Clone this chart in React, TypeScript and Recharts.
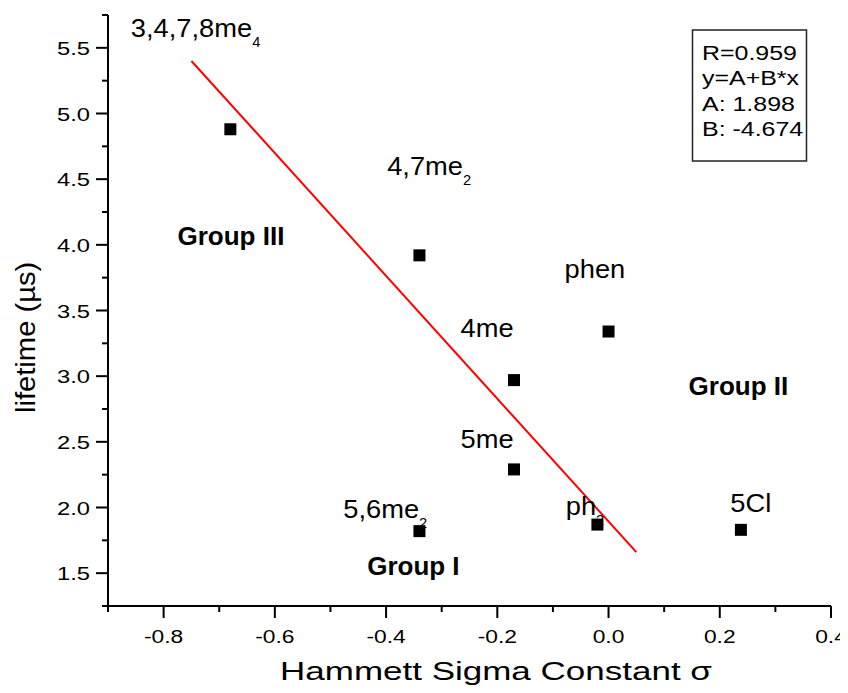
import { ScatterChart, Scatter, XAxis, YAxis } from "recharts";

const FONT = "'Liberation Sans', Arial, Helvetica, sans-serif";

// measured points
const compounds = ["3,4,7,8me4", "4,7me2", "phen", "4me", "5me", "5,6me2", "ph2", "5Cl"];
const sigma = [-0.68, -0.34, 0.0, -0.17, -0.17, -0.34, -0.02, 0.238];
const lifetime = [4.88, 3.92, 3.34, 2.97, 2.29, 1.82, 1.87, 1.83];

// linear fit drawn across the data
const fitX = [-0.75, 0.05];
const fitY = [5.4, 1.66];

// compound labels (left / baseline anchor, data units)
const labelBase = ["3,4,7,8me", "4,7me", "phen", "4me", "5me", "5,6me", "ph", "5Cl"];
const labelSub = ["4", "2", "", "", "", "2", "2", ""];
const labelX = [-0.859, -0.398, -0.079, -0.266, -0.266, -0.477, -0.077, 0.219];
const labelY = [5.585, 4.531, 3.747, 3.3, 2.45, 1.917, 1.942, 1.967];

const groups = ["Group III", "Group II", "Group I"];
const groupX = [-0.775, 0.144, -0.434];
const groupY = [3.998, 2.856, 1.485];

const xMajor = [-0.8, -0.6, -0.4, -0.2, 0, 0.2, 0.4];
const xMinor = [-0.9, -0.7, -0.5, -0.3, -0.1, 0.1, 0.3];
const yMajor = [1.5, 2, 2.5, 3, 3.5, 4, 4.5, 5, 5.5];
const yMinor = [1.25, 1.75, 2.25, 2.75, 3.25, 3.75, 4.25, 4.75, 5.25, 5.75];

const statLines = ["R=0.959", "y=A+B*x", "A: 1.898", "B: -4.674"];

const points = compounds.map((name, i) => ({ name, x: sigma[i], y: lifetime[i] }));
const fit = fitX.map((x, i) => ({ x, y: fitY[i] }));
const labels = labelBase.map((base, i) => ({ base, sub: labelSub[i], x: labelX[i], y: labelY[i] }));
const groupLabels = groups.map((text, i) => ({ text, x: groupX[i], y: groupY[i] }));

const XTick = (props: any) => {
  const { x, y, payload } = props;
  const major = xMajor.includes(payload.value);
  return (
    <g>
      <line x1={x} y1={y} x2={x} y2={y + (major ? 12 : 6)} stroke="#000" strokeWidth={2} />
      {major && (
        <text
          transform={`translate(${x},${y + 37}) scale(1.2,1)`}
          textAnchor="middle"
          fontSize={19}
          fontFamily={FONT}
          fill="#000"
        >
          {payload.value.toFixed(1)}
        </text>
      )}
    </g>
  );
};

const YTick = (props: any) => {
  const { x, y, payload } = props;
  const major = yMajor.includes(payload.value);
  return (
    <g>
      <line x1={x} y1={y} x2={x - (major ? 12 : 6)} y2={y} stroke="#000" strokeWidth={2} />
      {major && (
        <text
          transform={`translate(${x - 18},${y + 7}) scale(1.25,1)`}
          textAnchor="end"
          fontSize={19}
          fontFamily={FONT}
          fill="#000"
        >
          {payload.value.toFixed(1)}
        </text>
      )}
    </g>
  );
};

const Square = (p: any) => <rect x={p.cx - 6} y={p.cy - 6} width={12} height={12} fill="#000" />;

const CompoundLabel = (p: any) => (
  <text transform={`translate(${p.cx},${p.cy}) scale(1.05,1)`} fontSize={26} fontFamily={FONT} fill="#000">
    {p.payload.base}
    {p.payload.sub && (
      <tspan fontSize={14} dy={10}>
        {p.payload.sub}
      </tspan>
    )}
  </text>
);

const GroupLabel = (p: any) => (
  <text
    transform={`translate(${p.cx},${p.cy}) scale(1.04,1)`}
    fontSize={25}
    fontWeight="bold"
    fontFamily={FONT}
    fill="#000"
  >
    {p.payload.text}
  </text>
);

const App = () => {
  return (
    <div style={{ position: "relative", width: 840, height: 677, fontFamily: FONT }}>
      <ScatterChart
        width={840}
        height={677}
        margin={{ top: 7, right: 17, left: 0, bottom: 0 }}
        style={{ overflow: "visible" }}
      >
        <XAxis
          type="number"
          dataKey="x"
          domain={[-0.9, 0.4]}
          ticks={[...xMinor, ...xMajor]}
          allowDataOverflow
          height={79}
          axisLine={{ stroke: "#000", strokeWidth: 2 }}
          tickLine={false}
          tickSize={0}
          tickMargin={0}
          tick={<XTick />}
          interval={0}
        />
        <YAxis
          type="number"
          dataKey="y"
          domain={[1.25, 5.75]}
          ticks={[...yMinor, ...yMajor]}
          allowDataOverflow
          width={100}
          axisLine={{ stroke: "#000", strokeWidth: 2 }}
          tickLine={false}
          tickSize={0}
          tickMargin={0}
          tick={<YTick />}
          interval={0}
        />
        <Scatter
          data={fit}
          line={{ stroke: "#ff0000", strokeWidth: 2 }}
          shape={() => <g />}
          isAnimationActive={false}
        />
        <Scatter data={points} shape={Square} isAnimationActive={false} />
        <Scatter data={labels} shape={CompoundLabel} isAnimationActive={false} />
        <Scatter data={groupLabels} shape={GroupLabel} isAnimationActive={false} />
      </ScatterChart>
      <svg
        width={840}
        height={677}
        style={{ position: "absolute", left: 0, top: 0, pointerEvents: "none" }}
      >
        <rect x={684.5} y={22} width={114} height={131} fill="none" stroke="#222" strokeWidth={1.5} />
        {statLines.map((s, i) => (
          <text
            key={s}
            transform={`translate(694,${52 + i * 25.3}) scale(1.28,1)`}
            fontSize={19.5}
            fontFamily={FONT}
            fill="#000"
          >
            {s}
          </text>
        ))}
        <text transform="translate(272,672) scale(1.4,1)" fontSize={25} fontFamily={FONT} fill="#000">
          Hammett Sigma Constant σ
        </text>
        <text transform="translate(27,405) rotate(-90) scale(1.08,1)" fontSize={27} fontFamily={FONT} fill="#000">
          lifetime (µs)
        </text>
      </svg>
    </div>
  );
};

export default App;
